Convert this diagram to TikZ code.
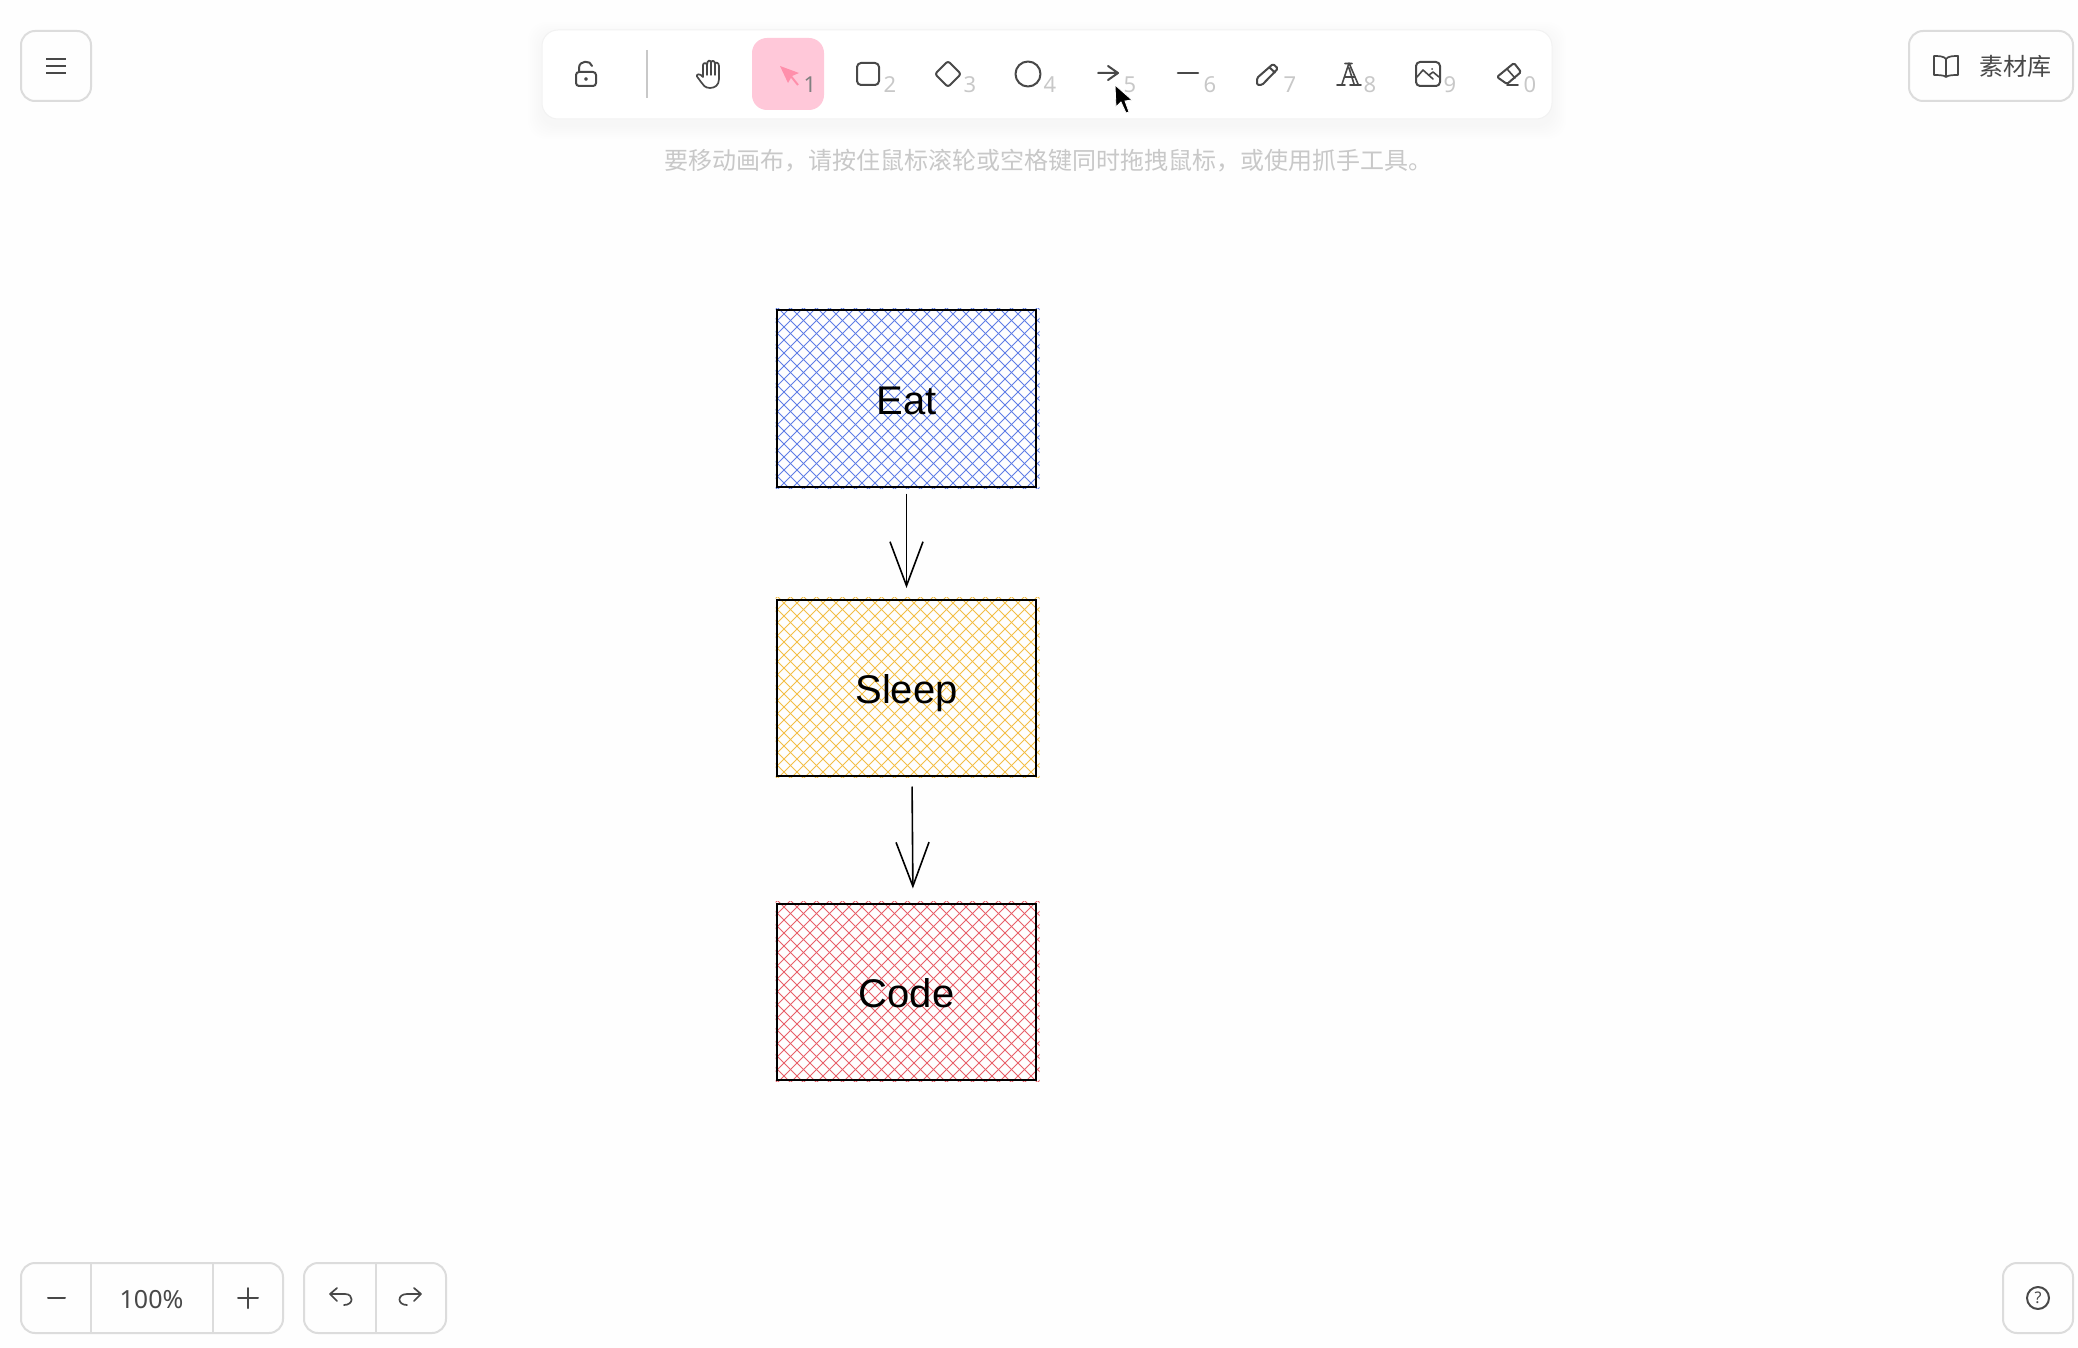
\documentclass[tikz,border=0pt]{standalone}
\usepackage{fontspec}
\setmainfont{Noto Sans}
\newfontfamily\cjk{Noto Sans CJK SC}
\newfontfamily\labelfont{Liberation Sans}
\usepackage{xcolor}
\usetikzlibrary{arrows.meta}
\definecolor{border_gray}{RGB}{220,220,220}
\definecolor{icon_gray}{RGB}{72,72,72}
\definecolor{digit_gray}{RGB}{200,200,200}
\definecolor{hint_gray}{RGB}{200,200,200}
\definecolor{canvas}{RGB}{254,254,254}
\definecolor{tile_pink}{RGB}{255,200,217}
\definecolor{cursor_pink}{RGB}{255,143,171}
\definecolor{hatch_blue}{RGB}{95,125,230}
\definecolor{hatch_yellow}{RGB}{243,190,70}
\definecolor{hatch_red}{RGB}{232,95,105}
\tikzset{
%%%%%%%%%%  Node styles
button/.style={draw=border_gray,line width=2pt,rounded corners=14pt,fill=canvas},
key_digit/.style={inner sep=0pt,text=digit_gray,font=\fontsize{22}{22}\selectfont},
icon_text/.style={inner sep=0pt,text=icon_gray},
content_box/.style={draw=black,line width=2pt,minimum width=259pt,minimum height=176pt,
                    inner sep=0pt,text height=31pt,text depth=0pt,
                    font=\labelfont\fontsize{40}{40}\selectfont},
hatch_box/.style={minimum width=264pt,minimum height=180pt,inner sep=0pt,
                  path picture={
                    \begin{scope}[shift={(path picture bounding box.center)}]
                    \foreach \d in {-325,-312,...,325}{
                      \draw[#1,line width=0.9pt] (\d-100,-100) -- (\d+100,100);
                      \draw[#1,line width=0.9pt] (\d-100,100) -- (\d+100,-100);
                    }
                    \end{scope}}},
%%%% different line styles:
icon/.style={draw=icon_gray,line width=2pt,line cap=round,line join=round},
flow/.style={draw=black,line width=1.6pt,-{Straight Barb[length=44pt,width=33pt,line width=1.6pt]}},
}

\begin{document}
\begin{tikzpicture}[x=1pt,y=-1pt]
\useasboundingbox (0,0) rectangle (2078,1348);
\fill[canvas] (0,0) rectangle (2078,1348);

%%%%% toolbar
\foreach \spread in {2,4,...,14}{
  \fill[black,opacity=0.002,rounded corners=18pt] (542-\spread,30-\spread+6) rectangle (1552+\spread,119+\spread+6);
}
\fill[white,draw=black!5,line width=1pt,rounded corners=16pt] (542,30) rectangle (1552,119);
\fill[tile_pink,rounded corners=15pt] (752,38) rectangle (824,110);
\draw[digit_gray,line width=1.5pt] (647,50) -- (647,98);

% lock
\draw[icon,rounded corners=3pt] (576,72) rectangle (596,86);
\draw[icon] (579,72) -- (579,68) .. controls (579,60) and (591,60) .. (592,66);
\draw[icon,line width=1.5pt] (586,79) circle (1.2);
% hand
\begin{scope}[xshift=12pt]
\draw[icon,line width=1.7pt] (691,77) -- (691,65) .. controls (691,62.5) and (695,62.5) .. (695,65)
  .. controls (695,59.5) and (699,59.5) .. (699,63) .. controls (699,60) and (703,60) .. (703,64)
  .. controls (703,62) and (707,62) .. (707,66) -- (707,79) .. controls (707,85) and (703,88) .. (698,88)
  .. controls (693,88) and (691,85) .. (689,82) -- (685,76.5) .. controls (684,74) and (688,73) .. (691,77);
\draw[icon,line width=1.5pt] (695,65) -- (695,75) (699,63) -- (699,75) (703,64) -- (703,75);
\end{scope}
% selection cursor
\begin{scope}[xshift=17pt]
\fill[cursor_pink] (763,66) -- (782,73) -- (775,76) -- (771,83) -- cycle;
\draw[cursor_pink,line width=2pt] (773,75) -- (781,85);
\end{scope}
% rectangle, diamond, circle
\draw[icon,rounded corners=4pt] (857,63) rectangle (879,85);
\draw[icon,rounded corners=2.5pt] (948,61) -- (961,74) -- (948,87) -- (935,74) -- cycle;
\draw[icon] (1028,74) circle (12.5);
% arrow and line
\draw[icon] (1098,73) -- (1118,73) (1108,66) -- (1118,73) -- (1108,80);
\draw[icon,line width=2.6pt] (1178,73) -- (1198,73);
% pencil
\draw[icon,rounded corners=1.5pt] (1257,85) -- (1257,78) -- (1273,64) -- (1278,68.5) -- (1262,85) -- cycle;
\draw[icon] (1269.5,67.5) -- (1275,72.5);
% letter A
\draw[icon,line width=1.6pt] (1342,84) -- (1349,63) -- (1358,84) (1349,68) -- (1354,84)
  (1345,63.5) -- (1352,63.5) (1344.5,77) -- (1355,77) (1337,85) -- (1345,85) (1350,85) -- (1361,85);
% image
\draw[icon,rounded corners=4pt] (1416,62) rectangle (1440,86);
\draw[icon,line width=1.6pt] (1417,77) -- (1423,70) -- (1433,79) (1429,75) -- (1433,72) -- (1439,77);
\fill[icon_gray] (1432,69) circle (1);
% eraser
\draw[icon,rounded corners=1.5pt] (1497,77) -- (1514,63) -- (1521,72) -- (1507,84) -- cycle;
\draw[icon,line width=1.6pt] (1507,69) -- (1515,78) (1507,85) -- (1518,85);

\foreach \xpos/\digit in {890/2,970/3,1050/4,1130/5,1210/6,1290/7,1370/8,1450/9,1530/0}{
  \node[key_digit] (key\digit) at (\xpos,85) {\digit};
}
\node[key_digit,text=black!50] (key1) at (810,85) {1};

% mouse pointer
\fill[black,draw=white,line width=0.8pt] (1115,85) -- (1116,107) -- (1121,102) -- (1126,113) -- (1129,112)
  -- (1125,101) -- (1132,100) -- cycle;

\node[inner sep=0pt,text=hint_gray,font=\cjk\fontsize{24}{24}\selectfont] (hint) at (1048,161)
  {要移动画布，请按住鼠标滚轮或空格键同时拖拽鼠标，或使用抓手工具。};

%%%%% corner buttons
\draw[button] (21,31) rectangle (91,101);
\draw[icon_gray,line width=2pt] (46,59) -- (66,59) (46,66) -- (66,66) (46,73) -- (66,73);

\draw[button] (1909,31) rectangle (2073,101);
\draw[icon,line width=1.7pt] (1946,59) .. controls (1944,56) and (1938,56) .. (1934,56) -- (1934,75)
  .. controls (1938,75) and (1944,75) .. (1946,77) .. controls (1948,75) and (1954,75) .. (1958,75)
  -- (1958,56) .. controls (1954,56) and (1948,56) .. (1946,59) -- (1946,77);
\node[icon_text,font=\cjk\fontsize{24}{24}\selectfont] (library) at (2015,66) {素材库};

\draw[button] (21,1263) rectangle (283,1333);
\draw[border_gray,line width=2pt] (91,1263) -- (91,1333) (213,1263) -- (213,1333);
\draw[icon] (48,1298) -- (65,1298);
\node[icon_text,font=\fontsize{25}{25}\selectfont] (zoomlevel) at (151.5,1300) {100\%};
\draw[icon] (238,1298) -- (258,1298) (248,1288) -- (248,1308);

\draw[button] (304,1263) rectangle (446,1333);
\draw[border_gray,line width=2pt] (376,1263) -- (376,1333);
\draw[icon,line width=1.7pt] (337,1288) -- (330,1294) -- (337,1301) (330,1294) -- (345,1294)
  .. controls (354,1294) and (354,1305) .. (344,1305);
\draw[icon,line width=1.7pt] (414,1288) -- (421,1294) -- (414,1301) (421,1294) -- (407,1294)
  .. controls (397,1294) and (397,1305) .. (407,1305);

\draw[button] (2003,1263) rectangle (2073,1333);
\draw[icon] (2038,1298) circle (11);
\node[icon_text,font=\fontsize{16}{16}\selectfont] (help) at (2038,1298) {?};

%%%%% the diagram
\node[hatch_box=hatch_blue] (eat_fill) at (907.5,398.5) {};
\node[content_box] (eat) at (906.5,398.5) {Eat};
\node[hatch_box=hatch_yellow] (sleep_fill) at (907.5,687.5) {};
\node[content_box] (sleep) at (906.5,687.5) {Sleep};
\node[hatch_box=hatch_red] (code_fill) at (907.5,991.5) {};
\node[content_box] (code) at (906.5,991.5) {Code};

\draw[flow,shorten <=6pt,shorten >=10.5pt] (eat.south) -- (sleep.north);
\draw[flow,shorten <=10pt,shorten >=14pt] ([xshift=5.5pt]sleep.south) -- ([xshift=6.5pt]code.north);
\end{tikzpicture}
\end{document}
